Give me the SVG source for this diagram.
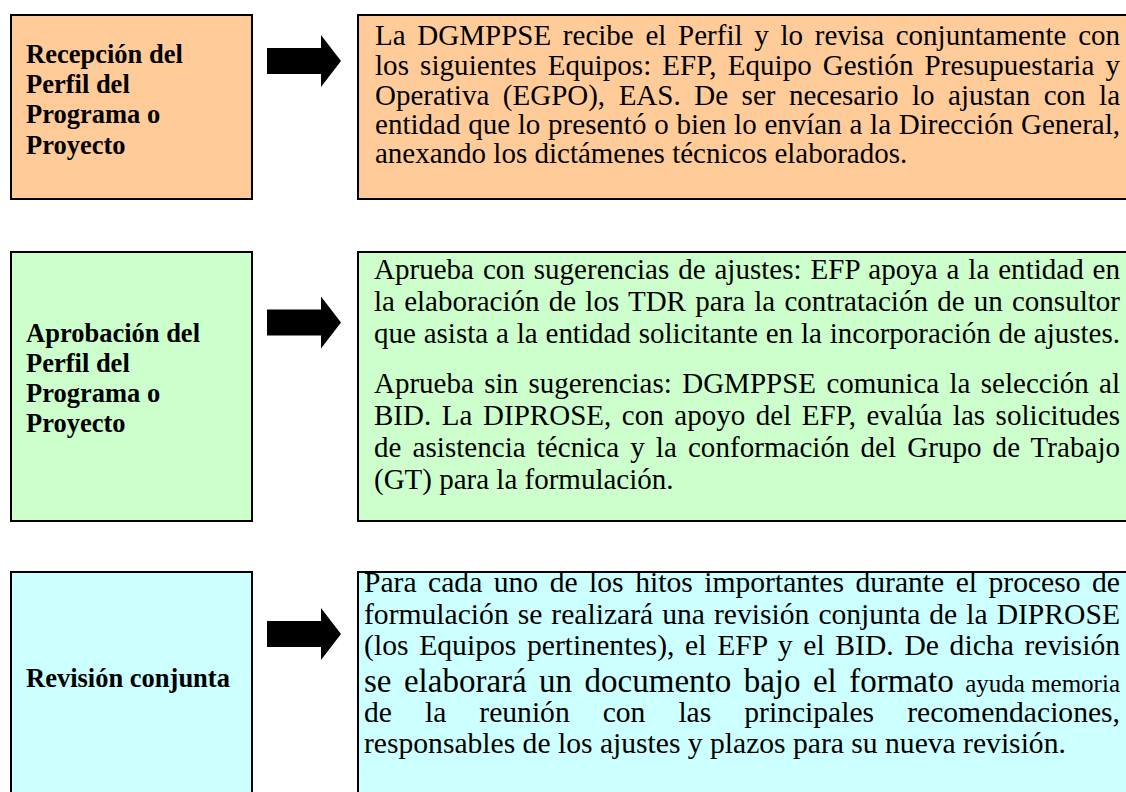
<svg xmlns="http://www.w3.org/2000/svg" width="1126" height="792" viewBox="0 0 1126 792">
<style>
.box{stroke:#000;stroke-width:2}
.b1{fill:#FFCC99}.b2{fill:#CCFFCC}.b3{fill:#CCFFFF}
.lt{font-family:"Liberation Serif","Times New Roman",serif;font-weight:bold;font-size:26.5px;fill:#000}
.rt{font-family:"Liberation Serif","Times New Roman",serif;font-size:29px;fill:#000}
.r3{font-size:29.6px}
.arrow{fill:#000}
</style>
<rect width="1126" height="792" fill="#fff"/>
<g id="n1">
<rect class="box b1" x="11" y="15" width="241" height="184"/>
<text class="lt" x="26" y="63">Recepción del</text>
<text class="lt" x="26" y="93">Perfil del</text>
<text class="lt" x="26" y="123">Programa o</text>
<text class="lt" x="26" y="154">Proyecto</text>
</g>
<g id="n1d">
<rect class="box b1" x="358" y="15" width="780" height="184"/>
<text class="rt" x="375" y="45" word-spacing="4.5" textLength="745" lengthAdjust="spacing">La DGMPPSE recibe el Perfil y lo revisa conjuntamente con</text>
<text class="rt" x="375" y="75" word-spacing="3.8" textLength="745" lengthAdjust="spacing">los siguientes Equipos: EFP, Equipo Gestión Presupuestaria y</text>
<text class="rt" x="375" y="105" word-spacing="6.3" textLength="745" lengthAdjust="spacing">Operativa (EGPO), EAS. De ser necesario lo ajustan con la</text>
<text class="rt" x="375" y="134" word-spacing="0.5" textLength="745" lengthAdjust="spacing">entidad que lo presentó o bien lo envían a la Dirección General,</text>
<text class="rt" x="375" y="163">anexando los dictámenes técnicos elaborados.</text>
</g>
<g id="n2">
<rect class="box b2" x="11" y="252" width="241" height="269"/>
<text class="lt" x="26" y="342">Aprobación del</text>
<text class="lt" x="26" y="372">Perfil del</text>
<text class="lt" x="26" y="402">Programa o</text>
<text class="lt" x="26" y="432">Proyecto</text>
</g>
<g id="n2d">
<rect class="box b2" x="358" y="252" width="780" height="269"/>
<text class="rt" x="374" y="279" word-spacing="1.6" textLength="746" lengthAdjust="spacing">Aprueba con sugerencias de ajustes: EFP apoya a la entidad en</text>
<text class="rt" x="374" y="311" word-spacing="1.9" textLength="746" lengthAdjust="spacing">la elaboración de los TDR para la contratación de un consultor</text>
<text class="rt" x="374" y="343" word-spacing="0.6" textLength="746" lengthAdjust="spacing">que asista a la entidad solicitante en la incorporación de ajustes.</text>
<text class="rt" x="374" y="393" word-spacing="3.1" textLength="746" lengthAdjust="spacing">Aprueba sin sugerencias: DGMPPSE comunica la selección al</text>
<text class="rt" x="374" y="425" word-spacing="3.2" textLength="746" lengthAdjust="spacing">BID. La DIPROSE, con apoyo del EFP, evalúa las solicitudes</text>
<text class="rt" x="374" y="457" word-spacing="3.8" textLength="746" lengthAdjust="spacing">de asistencia técnica y la conformación del Grupo de Trabajo</text>
<text class="rt" x="374" y="489">(GT) para la formulación.</text>
</g>
<g id="n3">
<rect class="box b3" x="11" y="572" width="241" height="240"/>
<text class="lt" x="26" y="687">Revisión conjunta</text>
</g>
<g id="n3d">
<rect class="box b3" x="358" y="572" width="780" height="240"/>
<text class="rt r3" x="364" y="592" word-spacing="4.1" textLength="756" lengthAdjust="spacing">Para cada uno de los hitos importantes durante el proceso de</text>
<text class="rt r3" x="364" y="624" word-spacing="1.6" textLength="756" lengthAdjust="spacing">formulación se realizará una revisión conjunta de la DIPROSE</text>
<text class="rt r3" x="364" y="655" word-spacing="3.2" textLength="756" lengthAdjust="spacing">(los Equipos pertinentes), el EFP y el BID. De dicha revisión</text>
<text class="rt" x="364" y="692" word-spacing="4.2" style="font-size:33px">se elaborará un documento bajo el formato</text>
<text class="rt" x="1120" y="692" text-anchor="end" style="font-size:25px">ayuda memoria</text>
<text class="rt r3" y="722"><tspan x="364">de</tspan><tspan x="425">la</tspan><tspan x="479.3">reunión</tspan><tspan x="602.7">con</tspan><tspan x="678.4">las</tspan><tspan x="744.3">principales</tspan><tspan x="907.2">recomendaciones,</tspan></text>
<text class="rt r3" x="364" y="753">responsables de los ajustes y plazos para su nueva revisión.</text>
</g>
<g id="connectors">
<polygon class="arrow" points="267,48 321,48 321,35 341,61 321,87 321,74 267,74"/>
<polygon class="arrow" points="267,309.5 321,309.5 321,296.5 341,322.5 321,348.5 321,335.5 267,335.5"/>
<polygon class="arrow" points="267,621 321,621 321,608 341,634 321,660 321,647 267,647"/>
</g>
</svg>
